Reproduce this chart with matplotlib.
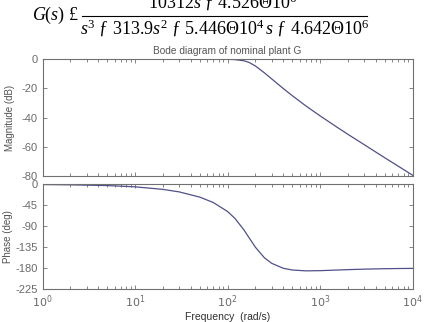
import matplotlib
matplotlib.use("Agg")
import matplotlib.pyplot as plt
from matplotlib.lines import Line2D
from matplotlib.ticker import LogLocator, NullFormatter

# frequency points (rad/s)
freq = [1, 2, 5, 10, 20, 30, 50, 70, 100, 120, 150, 170, 200, 250, 300,
        400, 500, 700, 1000, 1500, 2000, 3000, 5000, 7000, 10000]
mag_db = [0, 0, 0, 0, 0, 0, 0, 0, 0, -0.2,
          -1.0, -2.1, -4.6, -9.3, -13.5, -20.1, -25.0, -32.0, -38.9, -46.4,
          -51.6, -58.7, -67.7, -73.5, -79.7]
phase_deg = [-0.5, -1.1, -2.7, -5.4, -10.9, -16.3, -27.5, -39.1, -58.5, -73.3,
             -97.9, -114.4, -135.4, -158.0, -169.9, -180.5, -184.2, -186.0,
             -185.6, -184.3, -183.4, -182.3, -181.4, -181.0, -180.7]

mag_ticks = [0, -20, -40, -60, -80]
phase_ticks = [0, -45, -90, -135, -180, -225]

plt.rcParams['mathtext.fontset'] = 'custom'
plt.rcParams['mathtext.rm'] = 'Liberation Serif'
plt.rcParams['mathtext.it'] = 'Liberation Serif:italic'

line_c = '#50508a'
axis_c = '#707070'
tick_c = '#6a6a6a'

fig = plt.figure(figsize=(4.26, 3.22), dpi=100)
fig.set_facecolor('white')

ax1 = fig.add_axes([0.0998, 0.4543, 0.869, 0.3615])
ax2 = fig.add_axes([0.0998, 0.1025, 0.869, 0.3251])

for ax in (ax1, ax2):
    ax.set_xscale('log')
    ax.set_xlim(1, 1e4)
    ax.xaxis.set_major_locator(LogLocator(base=10, numticks=10))
    ax.xaxis.set_minor_locator(LogLocator(base=10, subs=range(2, 10), numticks=20))
    ax.xaxis.set_minor_formatter(NullFormatter())
    ax.tick_params(which='both', direction='in', top=True, right=True,
                   colors=axis_c, labelcolor=tick_c, labelsize=8)
    ax.tick_params(which='major', length=3, width=0.6)
    ax.tick_params(which='minor', length=2, width=0.6)
    for sp in ax.spines.values():
        sp.set_color(axis_c)
        sp.set_linewidth(0.8)

ax1.plot(freq, mag_db, color=line_c, lw=0.9)
ax1.set_ylim(-80, 0)
ax1.set_yticks(mag_ticks)
ax1.set_yticklabels([str(t) for t in mag_ticks], family='Liberation Sans')
ax1.xaxis.set_major_formatter(NullFormatter())
ax1.set_ylabel('Magnitude (dB)', fontsize=7, color='#505050',
               family='Liberation Sans', labelpad=5)
ax1.set_title('Bode diagram of nominal plant G', fontsize=7.3, color='#555555',
              family='Liberation Sans', pad=4)

ax2.plot(freq, phase_deg, color=line_c, lw=0.9)
ax2.set_ylim(-225, 0)
ax2.set_yticks(phase_ticks)
ax2.set_yticklabels([str(t) for t in phase_ticks], family='Liberation Sans')
ax2.set_ylabel('Phase (deg)', fontsize=7, color='#505050',
               family='Liberation Sans', labelpad=2)
ax2.set_xlabel('Frequency  (rad/s)', fontsize=7.5, color='#303030',
               family='Liberation Sans', labelpad=1)

# transfer function written above the chart
fig.text(0.075, 0.952, r'$G(s)$ £', fontsize=13, va='center', ha='left',
         family='Liberation Serif')
fig.text(0.523, 0.976, r'$10312s\ \mathrm{ƒ}\ 4.526\mathrm{Θ}10^6$',
         fontsize=13, va='baseline', ha='center')
fig.text(0.527, 0.896, r'$s^3\ \mathrm{ƒ}\ 313.9s^2\ \mathrm{ƒ}\ 5.446\mathrm{Θ}10^4\,s\ \mathrm{ƒ}\ 4.642\mathrm{Θ}10^6$',
         fontsize=13, va='baseline', ha='center')
fig.add_artist(Line2D([0.193, 0.862], [0.949, 0.949], color='black', lw=0.8,
                      transform=fig.transFigure))

fig.savefig('out.png', dpi=100)
